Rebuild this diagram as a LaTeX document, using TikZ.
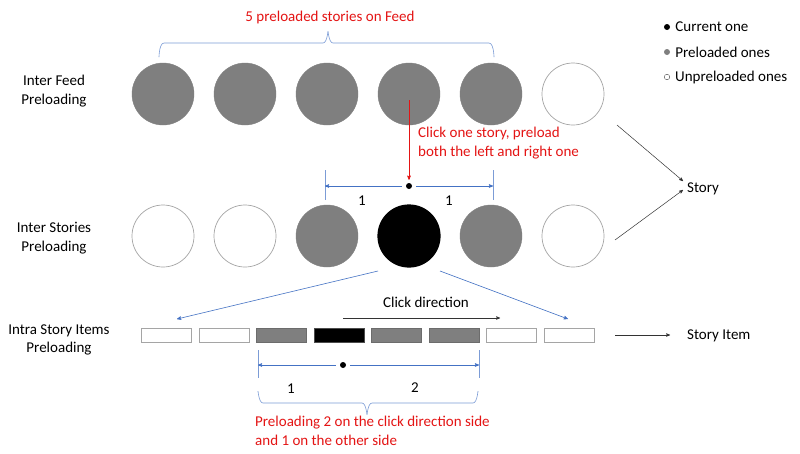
\documentclass[tikz,border=0pt]{standalone}
\usepackage{fontspec}
\setmainfont{Carlito}
\usepackage{tikz}
\usetikzlibrary{arrows,calc,positioning,shapes}
\definecolor{my_gray}{RGB}{127, 127, 127}
\definecolor{my_line}{RGB}{165, 165, 165}
\definecolor{my_red}{RGB}{228, 20, 20}
\definecolor{my_blue}{RGB}{68, 114, 196}
\tikzset{
  storynode/.style = {circle, inner sep=0pt, minimum size=62pt},
  story_p/.style = {storynode, fill=my_gray, draw=my_gray},
  story_u/.style = {storynode, fill=white, draw=my_line, line width=0.7pt},
  story_c/.style = {storynode, fill=black, draw=black, line width=1.2pt},
  itemnode/.style = {rectangle, inner sep=0pt, minimum width=50pt, minimum height=14pt, line width=1pt},
  item_p/.style = {itemnode, fill=my_gray, draw=my_gray!85!black},
  item_u/.style = {itemnode, fill=white, draw=my_line},
  item_c/.style = {itemnode, fill=black, draw=my_gray!60!black},
  txt/.style = {align=center, inner sep=0pt, font=\fontsize{15}{18.5}\selectfont}
}

\begin{document}
\begin{tikzpicture}[x=1pt,y=-1pt,>=stealth',
        dot/.style={circle, fill=black, inner sep=0pt, minimum size=6pt},
        legdot/.style={circle, inner sep=0pt, minimum size=6pt},
        bluearrow/.style={->, draw=my_blue, line width=0.6pt},
        blueline/.style={draw=my_blue!70!white, line width=0.6pt},
        darkarrow/.style={->, draw=black!80, line width=0.5pt},
        redtxt/.style={txt, text=my_red}]
    \useasboundingbox[fill=white] (0,0) rectangle (800,453);

    % rows
    \foreach \i/\s in {1/story_p,2/story_p,3/story_p,4/story_p,5/story_p,6/story_u}
        \node [\s] (f\i) at ({163+82*(\i-1)},94) {};
    \foreach \i/\s in {1/story_u,2/story_u,3/story_p,4/story_c,5/story_p,6/story_u}
        \node [\s] (s\i) at ({163+82*(\i-1)},236) {};
    \foreach \i/\s in {1/item_u,2/item_u,3/item_p,4/item_c,5/item_p,6/item_p,7/item_u,8/item_u}
        \node [\s] (i\i) at ({166.5+57.5*(\i-1)},335) {};

    % row labels
    \node [txt] (feedlbl) at (54,91) {Inter Feed\\Preloading};
    \node [txt] (storieslbl) at (54,238) {Inter Stories\\Preloading};
    \node [txt] (itemslbl) at (59,340) {Intra Story Items\\Preloading};

    % feed brace
    \draw [blueline] (159,56) to[out=-90,in=180] (164,43) -- (323,43)
        to[out=0,in=90] (328,32) to[out=90,in=180] (333,43) -- (489,43)
        to[out=0,in=-90] (494,56);
    \node [redtxt] (feedtxt) at (330,17) {5 preloaded stories on Feed};

    % click on a story
    \node [dot] (sdot) at (409,186) {};
    \coordinate (redstart) at (409,100);
    \draw [->, draw=my_red, line width=0.6pt, shorten >=3pt] (redstart) -- (sdot.north);
    \node [redtxt, anchor=north west, align=left] (clicktxt) at (418,127)
        {Click one story, preload\\both the left and right one};
    \coordinate (sl) at (325,186);
    \coordinate (sr) at (493,186);
    \draw [blueline] (325,170) -- (325,200);
    \draw [blueline] (493,170) -- (493,200);
    \draw [bluearrow, shorten <=4pt] (sdot.west) -- (sl);
    \draw [bluearrow, shorten <=4pt] (sdot.east) -- (sr);
    \node [txt] (sone) at (362,201) {1};
    \node [txt] (stwo) at (449,201) {1};

    % story
    \node [txt, anchor=west] (story) at (687,189) {Story};
    \coordinate (fa) at (617,125);
    \coordinate (sa) at (615,240);
    \draw [darkarrow] (fa) -- ($(story.west)+(-4,-8)$);
    \draw [darkarrow] (sa) -- ($(story.west)+(-4,1)$);

    % story items
    \coordinate (il) at (378,271);
    \coordinate (ir) at (440,271);
    \draw [bluearrow] (il) -- (177,319);
    \draw [bluearrow] (ir) -- (568,319);
    \node [txt] (dirtxt) at (426,302) {Click direction};
    \draw [darkarrow] (343,318) -- (500,318);
    \node [txt, anchor=west] (item) at (687,336) {Story Item};
    \draw [darkarrow] (615,335) -- ($(item.west)+(-17,-1)$);

    % item dimension
    \node [dot] (idot) at (343,365) {};
    \coordinate (il2) at (258,365);
    \coordinate (ir2) at (479,365);
    \draw [blueline] (258,350) -- (258,378);
    \draw [blueline] (479,350) -- (479,378);
    \draw [bluearrow, shorten <=4pt] (idot.west) -- (il2);
    \draw [bluearrow, shorten <=4pt] (idot.east) -- (ir2);
    \node [txt] (ione) at (291,389) {1};
    \node [txt] (itwo) at (415,388) {2};

    % item brace
    \draw [blueline] (258,392) to[out=90,in=180] (263,403) -- (362,403)
        to[out=0,in=-90] (367,414) to[out=-90,in=180] (372,403) -- (473,403)
        to[out=0,in=90] (478,392);
    \node [redtxt, anchor=north west, align=left] (itemtxt) at (255,416)
        {Preloading 2 on the click direction side\\and 1 on the other side};

    % legend
    \node [legdot, fill=black] (lg1) at (667,27) {};
    \node [legdot, fill=my_gray] (lg2) at (667,52) {};
    \node [legdot, fill=white, draw=black!70, line width=0.4pt, minimum size=5.5pt] (lg3) at (667,77) {};
    \node [txt, anchor=west, right=5pt of lg1] (lgt1) {Current one};
    \node [txt, anchor=west, right=5pt of lg2] (lgt2) {Preloaded ones};
    \node [txt, anchor=west, right=5pt of lg3] (lgt3) {Unpreloaded ones};
\end{tikzpicture}
\end{document}
